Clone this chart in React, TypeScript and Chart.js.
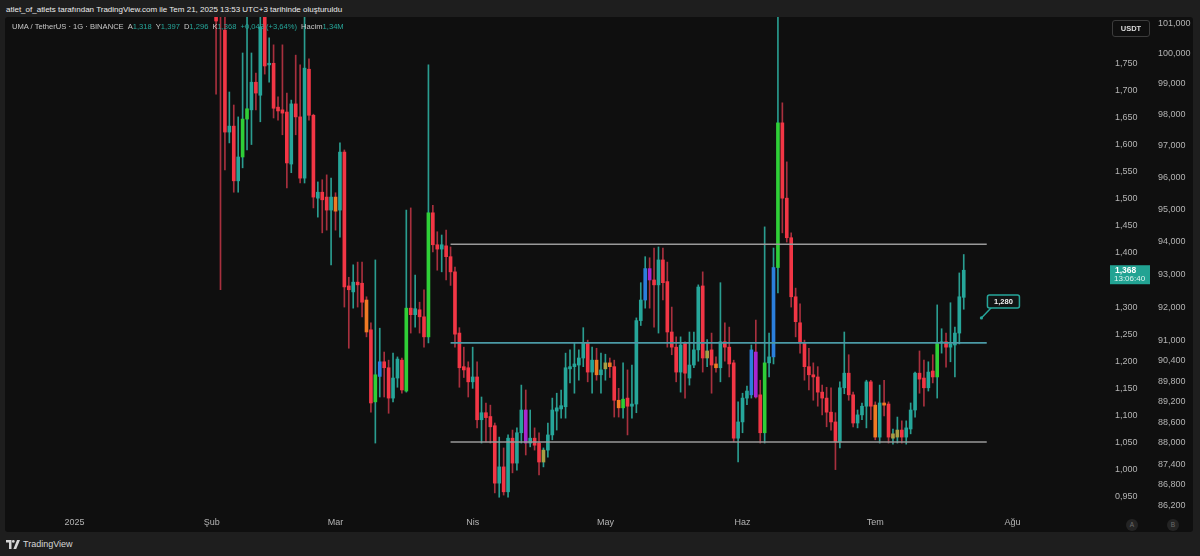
import React, { useEffect, useRef } from "react";
import { Chart, registerables } from "chart.js";
Chart.register(...registerables);

// Day index counted from 1 Jan 2025 (day 0). First visible daily candle: 2 Feb 2025.
const START_DAY = 32;

const OPEN = [
  1.900, 1.900, 1.811, 1.623, 1.634, 1.533, 1.577, 1.647, 1.664, 1.715,
  1.691, 1.840, 1.747, 1.750, 1.669, 1.664, 1.660, 1.564, 1.675, 1.651,
  1.538, 1.739, 1.654, 1.501, 1.512, 1.503, 1.479, 1.503, 1.479, 1.586,
  1.339, 1.328, 1.346, 1.344, 1.313, 1.258, 1.125, 1.172, 1.199, 1.188,
  1.132, 1.169, 1.202, 1.145, 1.298, 1.286, 1.295, 1.282, 1.245, 1.474,
  1.415, 1.407, 1.413, 1.393, 1.365, 1.252, 1.190, 1.188, 1.162, 1.171,
  1.092, 1.105, 1.098, 1.081, 0.975, 1.005, 0.959, 1.058, 1.012, 1.068,
  1.110, 1.049, 1.058, 1.049, 1.014, 1.036, 1.064, 1.108, 1.112, 1.116,
  1.186, 1.190, 1.193, 1.206, 1.234, 1.180, 1.202, 1.175, 1.186, 1.197,
  1.190, 1.128, 1.114, 1.132, 1.117, 1.121, 1.275, 1.313, 1.371, 1.350,
  1.341, 1.387, 1.347, 1.254, 1.226, 1.180, 1.234, 1.169, 1.193, 1.221,
  1.339, 1.206, 1.221, 1.195, 1.188, 1.236, 1.226, 1.197, 1.058, 1.088,
  1.132, 1.138, 1.217, 1.138, 1.068, 1.197, 1.208, 1.373, 1.640, 1.501,
  1.428, 1.319, 1.271, 1.234, 1.190, 1.175, 1.171, 1.143, 1.132, 1.106,
  1.088, 1.051, 1.151, 1.178, 1.138, 1.086, 1.101, 1.117, 1.162, 1.119,
  1.060, 1.123, 1.121, 1.058, 1.060, 1.073, 1.060, 1.075, 1.110, 1.178,
  1.169, 1.151, 1.182, 1.171, 1.234, 1.236, 1.226, 1.230, 1.252, 1.318,
];
const HIGH = [
  1.950, 1.960, 1.860, 1.697, 1.673, 1.651, 1.769, 1.850, 1.769, 1.732,
  1.860, 1.880, 1.797, 1.784, 1.688, 1.784, 1.695, 1.682, 1.765, 1.747,
  1.850, 1.758, 1.656, 1.531, 1.535, 1.544, 1.538, 1.511, 1.603, 1.590,
  1.355, 1.378, 1.383, 1.383, 1.319, 1.271, 1.387, 1.261, 1.217, 1.202,
  1.215, 1.208, 1.206, 1.479, 1.483, 1.359, 1.309, 1.332, 1.747, 1.488,
  1.439, 1.433, 1.442, 1.411, 1.374, 1.262, 1.226, 1.199, 1.226, 1.199,
  1.134, 1.123, 1.119, 1.086, 1.060, 1.040, 1.064, 1.073, 1.077, 1.156,
  1.147, 1.110, 1.077, 1.068, 1.040, 1.086, 1.132, 1.141, 1.147, 1.215,
  1.221, 1.234, 1.221, 1.262, 1.239, 1.226, 1.224, 1.215, 1.213, 1.206,
  1.202, 1.150, 1.197, 1.184, 1.193, 1.280, 1.345, 1.393, 1.391, 1.409,
  1.411, 1.409, 1.383, 1.300, 1.245, 1.245, 1.236, 1.254, 1.254, 1.341,
  1.365, 1.240, 1.252, 1.208, 1.345, 1.271, 1.263, 1.202, 1.125, 1.141,
  1.154, 1.230, 1.276, 1.165, 1.448, 1.252, 1.409, 1.860, 1.677, 1.568,
  1.437, 1.335, 1.306, 1.239, 1.224, 1.197, 1.190, 1.156, 1.152, 1.151,
  1.105, 1.162, 1.254, 1.212, 1.143, 1.110, 1.123, 1.165, 1.165, 1.125,
  1.156, 1.165, 1.125, 1.075, 1.097, 1.090, 1.090, 1.123, 1.180, 1.219,
  1.202, 1.199, 1.212, 1.304, 1.260, 1.252, 1.308, 1.263, 1.363, 1.397,
];
const LOW = [
  1.693, 1.332, 1.553, 1.603, 1.512, 1.512, 1.557, 1.590, 1.600, 1.664,
  1.642, 1.730, 1.715, 1.649, 1.645, 1.618, 1.520, 1.548, 1.618, 1.529,
  1.529, 1.645, 1.483, 1.466, 1.437, 1.442, 1.378, 1.442, 1.429, 1.300,
  1.224, 1.298, 1.300, 1.282, 1.245, 1.106, 1.049, 1.134, 1.134, 1.104,
  1.125, 1.152, 1.141, 1.143, 1.252, 1.263, 1.252, 1.226, 1.234, 1.402,
  1.368, 1.365, 1.350, 1.340, 1.226, 1.152, 1.170, 1.134, 1.150, 1.077,
  1.049, 1.051, 1.049, 0.957, 0.949, 0.953, 0.949, 0.994, 0.999, 1.049,
  1.027, 1.042, 1.036, 0.990, 1.005, 1.023, 1.055, 1.073, 1.095, 1.095,
  1.160, 1.141, 1.165, 1.190, 1.162, 1.141, 1.165, 1.141, 1.165, 1.170,
  1.097, 1.097, 1.095, 1.064, 1.095, 1.105, 1.266, 1.298, 1.298, 1.263,
  1.252, 1.313, 1.226, 1.212, 1.162, 1.143, 1.132, 1.156, 1.188, 1.200,
  1.180, 1.190, 1.141, 1.180, 1.162, 1.200, 1.171, 1.051, 1.014, 1.068,
  1.120, 1.132, 1.132, 1.049, 1.049, 1.171, 1.195, 1.326, 1.437, 1.420,
  1.300, 1.245, 1.215, 1.165, 1.147, 1.128, 1.117, 1.101, 1.079, 1.073,
  1.000, 1.040, 1.140, 1.128, 1.079, 1.077, 1.092, 1.077, 1.092, 1.055,
  1.049, 1.099, 1.049, 1.047, 1.049, 1.049, 1.047, 1.066, 1.097, 1.141,
  1.117, 1.145, 1.160, 1.132, 1.215, 1.189, 1.199, 1.171, 1.232, 1.296,
];
const CLOSE = [
  1.828, 1.850, 1.623, 1.634, 1.533, 1.577, 1.647, 1.666, 1.715, 1.695,
  1.817, 1.745, 1.750, 1.667, 1.662, 1.658, 1.566, 1.675, 1.651, 1.538,
  1.741, 1.654, 1.503, 1.512, 1.498, 1.479, 1.503, 1.477, 1.586, 1.337,
  1.332, 1.346, 1.341, 1.309, 1.254, 1.123, 1.175, 1.199, 1.188, 1.132,
  1.169, 1.204, 1.147, 1.298, 1.286, 1.297, 1.282, 1.245, 1.474, 1.415,
  1.407, 1.415, 1.393, 1.365, 1.250, 1.188, 1.184, 1.162, 1.171, 1.092,
  1.105, 1.096, 1.079, 0.975, 1.005, 0.959, 1.058, 1.012, 1.068, 1.110,
  1.049, 1.058, 1.045, 1.014, 1.036, 1.064, 1.110, 1.114, 1.118, 1.188,
  1.190, 1.195, 1.206, 1.234, 1.180, 1.202, 1.175, 1.184, 1.197, 1.190,
  1.128, 1.114, 1.130, 1.117, 1.121, 1.275, 1.313, 1.371, 1.350, 1.341,
  1.387, 1.345, 1.254, 1.226, 1.180, 1.230, 1.178, 1.193, 1.221, 1.337,
  1.206, 1.219, 1.193, 1.188, 1.236, 1.226, 1.195, 1.058, 1.088, 1.132,
  1.145, 1.221, 1.134, 1.068, 1.197, 1.208, 1.373, 1.640, 1.501, 1.428,
  1.319, 1.273, 1.234, 1.190, 1.175, 1.171, 1.143, 1.132, 1.106, 1.088,
  1.051, 1.151, 1.178, 1.138, 1.086, 1.101, 1.117, 1.162, 1.117, 1.060,
  1.123, 1.119, 1.060, 1.066, 1.073, 1.060, 1.077, 1.110, 1.178, 1.167,
  1.151, 1.180, 1.171, 1.234, 1.236, 1.226, 1.232, 1.252, 1.319, 1.368,
];
// candle tint from the indicator: t teal, r red, g green, b blue, p purple, o orange, y olive
const TONE = [
  "r","r","r","t","r","t","g","g","t","r",
  "t","r","t","r","r","r","r","t","r","r",
  "t","r","r","t","r","r","t","o","t","r",
  "r","t","r","r","o","r","g","b","r","r",
  "t","t","r","g","r","t","r","r","g","r",
  "r","t","r","r","r","r","r","r","t","r",
  "t","r","r","r","t","r","t","r","t","t",
  "p","t","r","r","y","t","t","t","t","t",
  "t","t","t","t","r","t","o","t","y","o",
  "r","o","g","r","t","t","t","b","p","r",
  "t","r","r","r","r","t","r","t","t","t",
  "r","y","r","o","t","r","r","r","t","t",
  "t","b","p","r","g","t","b","g","r","r",
  "r","r","r","r","r","r","r","r","r","r",
  "r","t","t","r","r","t","t","t","r","o",
  "t","o","r","y","y","r","t","t","t","r",
  "r","t","r","g","t","r","t","t","t","t",
];

const MONTH_TICKS = [0, 31, 59, 90, 120, 151, 181, 212];
const MONTH_LABELS = ["2025", "Şub", "Mar", "Nis", "May", "Haz", "Tem", "Ağu"];

const PRICE_TICKS = [
  0.95, 1.0, 1.05, 1.1, 1.15, 1.2, 1.25, 1.3, 1.35, 1.4, 1.45, 1.5, 1.55, 1.6,
  1.65, 1.7, 1.75,
];
// second (B) price scale labels and the A-price level at which each sits
const B_LABELS = [
  "101,000", "100,000", "99,000", "98,000", "97,000", "96,000", "95,000",
  "94,000", "93,000", "92,000", "91,000", "90,400", "89,800", "89,200",
  "88,600", "88,000", "87,400", "86,800", "86,200",
];
const B_AT = [
  1.8238, 1.7684, 1.7118, 1.6545, 1.5973, 1.5383, 1.4792, 1.4201, 1.3592,
  1.2989, 1.2374, 1.2005, 1.1623, 1.1254, 1.0873, 1.0491, 1.0103, 0.9716,
  0.9334,
];

const LEVEL_PRICES = [1.416, 1.234, 1.051];
const LEVEL_COLORS = ["#9a9a9a", "#4b9aa6", "#9a9a9a"];
const LEVEL_FROM_DAY = 85;
const LEVEL_TO_DAY = 206.2;

const CALLOUT_DAY = 205;
const CALLOUT_PRICE = 1.28;
const CALLOUT_TEXT = "1,280";

const LAST_PRICE = 1.368;
const LAST_TIMER = "13:06:40";

const X_MIN = -15.71;
const X_MAX = 232.93;
const Y_MIN = 0.9199;
const Y_MAX = 1.8354;

const BODY_COLORS: Record<string, string> = {
  t: "#26a69a",
  r: "#f23645",
  g: "#2fcf37",
  b: "#2b7fdc",
  p: "#a925cf",
  o: "#f07a24",
  y: "#a89f45",
};
const UP_WICK = "#2a9d90";
const DOWN_WICK = "#a8303e";
const TEAL = "#26a69a";
const FONT = "'Liberation Sans', Arial, sans-serif";

const fmt = (v: number) => v.toFixed(3).replace(".", ",");

const overlayPlugin = {
  id: "overlays",
  afterDatasetsDraw(chart: any) {
    const { ctx, scales } = chart;
    const px = scales.x.getPixelForValue(CALLOUT_DAY);
    const py = scales.y.getPixelForValue(CALLOUT_PRICE);
    ctx.save();
    ctx.strokeStyle = TEAL;
    ctx.fillStyle = TEAL;
    ctx.lineWidth = 1.5;
    ctx.beginPath();
    ctx.moveTo(px, py);
    ctx.lineTo(px + 10, py - 10.5);
    ctx.stroke();
    ctx.beginPath();
    ctx.arc(px, py, 1.6, 0, Math.PI * 2);
    ctx.fill();
    const bx = px + 6;
    const by = py - 23;
    const bw = 32;
    const bh = 13;
    ctx.fillStyle = "#111414";
    ctx.beginPath();
    ctx.roundRect(bx, by, bw, bh, 2);
    ctx.fill();
    ctx.stroke();
    ctx.fillStyle = "#f0f0f0";
    ctx.font = `bold 7.5px ${FONT}`;
    ctx.textAlign = "center";
    ctx.textBaseline = "middle";
    ctx.fillText(CALLOUT_TEXT, bx + bw / 2, by + bh / 2 + 0.5);
    ctx.restore();
  },
  afterDraw(chart: any) {
    const { ctx, scales } = chart;
    const py = scales.y.getPixelForValue(LAST_PRICE);
    const left = scales.y.left + 5;
    ctx.save();
    ctx.fillStyle = "#22a393";
    ctx.fillRect(left, py - 5, 40, 19);
    ctx.fillStyle = "#ffffff";
    ctx.textAlign = "left";
    ctx.textBaseline = "middle";
    ctx.font = `bold 8.5px ${FONT}`;
    ctx.fillText(fmt(LAST_PRICE), left + 5, py + 0.5);
    ctx.fillStyle = "#dff5f1";
    ctx.font = `8px ${FONT}`;
    ctx.fillText(LAST_TIMER, left + 4, py + 9);
    ctx.restore();
  },
};

function CandleChart() {
  const ref = useRef<HTMLCanvasElement | null>(null);
  useEffect(() => {
    if (!ref.current) return;
    const days = OPEN.map((_, i) => START_DAY + i);
    const wickData = days.map((d, i) => ({ x: d, y: [LOW[i], HIGH[i]] }));
    const bodyData = days.map((d, i) => ({ x: d, y: [OPEN[i], CLOSE[i]] }));
    const bodyColors = TONE.map((t) => BODY_COLORS[t]);
    const wickColors = days.map((_, i) => (CLOSE[i] >= OPEN[i] ? UP_WICK : DOWN_WICK));
    const levelSets = LEVEL_PRICES.map((p, i) => ({
      type: "line" as const,
      data: [
        { x: LEVEL_FROM_DAY, y: p },
        { x: LEVEL_TO_DAY, y: p },
      ],
      borderColor: LEVEL_COLORS[i],
      borderWidth: 1.6,
      pointRadius: 0,
      order: 0,
    }));
    const tickColor = "#b4b4b4";
    const chart = new Chart(ref.current, {
      type: "bar",
      data: {
        datasets: [
          {
            type: "bar",
            data: wickData as any,
            backgroundColor: wickColors,
            barThickness: 1,
            grouped: false,
            order: 2,
          } as any,
          {
            type: "bar",
            data: bodyData as any,
            backgroundColor: bodyColors,
            barThickness: 3,
            minBarLength: 1,
            grouped: false,
            order: 1,
          } as any,
          ...levelSets,
        ],
      },
      options: {
        responsive: false,
        animation: false,
        events: [],
        layout: { padding: 0 },
        plugins: { legend: { display: false }, tooltip: { enabled: false } },
        scales: {
          x: {
            type: "linear",
            min: X_MIN,
            max: X_MAX,
            offset: false,
            grid: { display: false, drawTicks: false, offset: false },
            border: { display: false },
            ticks: {
              autoSkip: false,
              maxRotation: 0,
              padding: 4,
              color: tickColor,
              font: { family: FONT, size: 9 },
              callback: (v: any) => {
                const i = MONTH_TICKS.indexOf(Number(v));
                return i >= 0 ? MONTH_LABELS[i] : "";
              },
            },
            afterBuildTicks: (s: any) => {
              s.ticks = MONTH_TICKS.map((v) => ({ value: v }));
            },
            afterFit: (s: any) => {
              s.height = 19;
              s.paddingLeft = 0;
              s.paddingRight = 0;
            },
          },
          y: {
            type: "linear",
            position: "right",
            weight: 0,
            min: Y_MIN,
            max: Y_MAX,
            grid: { display: false, drawTicks: false },
            border: { display: false },
            ticks: {
              autoSkip: false,
              padding: 10,
              color: tickColor,
              font: { family: FONT, size: 9 },
              callback: (v: any) => fmt(Number(v)),
            },
            afterBuildTicks: (s: any) => {
              s.ticks = PRICE_TICKS.map((v) => ({ value: v }));
            },
            afterFit: (s: any) => {
              s.width = 46;
              s.paddingTop = 0;
              s.paddingBottom = 0;
            },
          },
          y2: {
            type: "linear",
            position: "right",
            weight: 1,
            min: Y_MIN,
            max: Y_MAX,
            grid: { display: false, drawTicks: false },
            border: { display: false },
            ticks: {
              autoSkip: false,
              padding: 7,
              color: tickColor,
              font: { family: FONT, size: 9 },
              callback: (v: any) => {
                const i = B_AT.indexOf(Number(v));
                return i >= 0 ? B_LABELS[i] : "";
              },
            },
            afterBuildTicks: (s: any) => {
              s.ticks = B_AT.map((v) => ({ value: v }));
            },
            afterFit: (s: any) => {
              s.width = 42;
              s.paddingTop = 0;
              s.paddingBottom = 0;
            },
          },
        },
      } as any,
      plugins: [overlayPlugin],
    });
    return () => chart.destroy();
  }, []);
  return <canvas ref={ref} width={1188} height={515} style={{ display: "block" }} />;
}

const LEGEND_ITEMS: [string, string][] = [
  ["A", "1,318"],
  ["Y", "1,397"],
  ["D", "1,296"],
  ["K", "1,368"],
];

export default function App() {
  useEffect(() => {
    document.body.style.margin = "0";
  }, []);
  const grey = "#c9c9c9";
  return (
    <div
      style={{
        position: "fixed",
        left: 0,
        top: 0,
        width: 1200,
        height: 556,
        background: "#1e1e1e",
        overflow: "hidden",
        fontFamily: FONT,
      }}
    >
      <div
        style={{
          position: "absolute",
          left: 6,
          top: 4,
          fontSize: 8,
          lineHeight: "12px",
          color: "#ececec",
          whiteSpace: "nowrap",
        }}
      >
        atlet_of_atlets tarafından TradingView.com ile Tem 21, 2025 13:53 UTC+3 tarihinde oluşturuldu
      </div>
      <div
        style={{
          position: "absolute",
          left: 5,
          top: 17,
          width: 1188,
          height: 515,
          background: "#0f0f0f",
          borderRadius: 3,
          overflow: "hidden",
        }}
      >
        <CandleChart />
        <div
          style={{
            position: "absolute",
            left: 7,
            top: 4,
            fontSize: 7.6,
            lineHeight: "12px",
            whiteSpace: "nowrap",
            color: grey,
          }}
        >
          <span>UMA / TetherUS · 1G · BINANCE</span>
          {LEGEND_ITEMS.map(([k, v]) => (
            <span key={k} style={{ marginLeft: 4 }}>
              {k}
              <span style={{ color: TEAL }}>{v}</span>
            </span>
          ))}
          <span style={{ marginLeft: 4, color: TEAL }}>+0,048 (+3,64%)</span>
          <span style={{ marginLeft: 4 }}>
            Hacim<span style={{ color: TEAL }}>1,34M</span>
          </span>
        </div>
        <div
          style={{
            position: "absolute",
            left: 1107,
            top: 3,
            width: 36,
            height: 15,
            border: "1px solid #3c3c3c",
            borderRadius: 3,
            color: "#dcdcdc",
            fontSize: 7.5,
            fontWeight: "bold",
            lineHeight: "15px",
            textAlign: "center",
          }}
        >
          USDT
        </div>
        {["A", "B"].map((l, i) => (
          <div
            key={l}
            style={{
              position: "absolute",
              left: i === 0 ? 1121 : 1162,
              top: 502,
              width: 12,
              height: 12,
              borderRadius: 6,
              background: "#242424",
              color: "#6c6c6c",
              fontSize: 6.5,
              lineHeight: "12px",
              textAlign: "center",
            }}
          >
            {l}
          </div>
        ))}
      </div>
      <div
        style={{
          position: "absolute",
          left: 6,
          top: 539,
          display: "flex",
          alignItems: "center",
          gap: 3,
          color: "#d6d6d6",
          fontSize: 9,
        }}
      >
        <svg width="14" height="9" viewBox="0 0 14 9">
          <path d="M0 0 H5.5 V9 H3 V2.4 H0 Z" fill="#d6d6d6" />
          <circle cx="7.3" cy="1.4" r="1.4" fill="#d6d6d6" />
          <path d="M11 0 H14 L10.2 9 H7.4 Z" fill="#d6d6d6" />
        </svg>
        <span>TradingView</span>
      </div>
    </div>
  );
}
